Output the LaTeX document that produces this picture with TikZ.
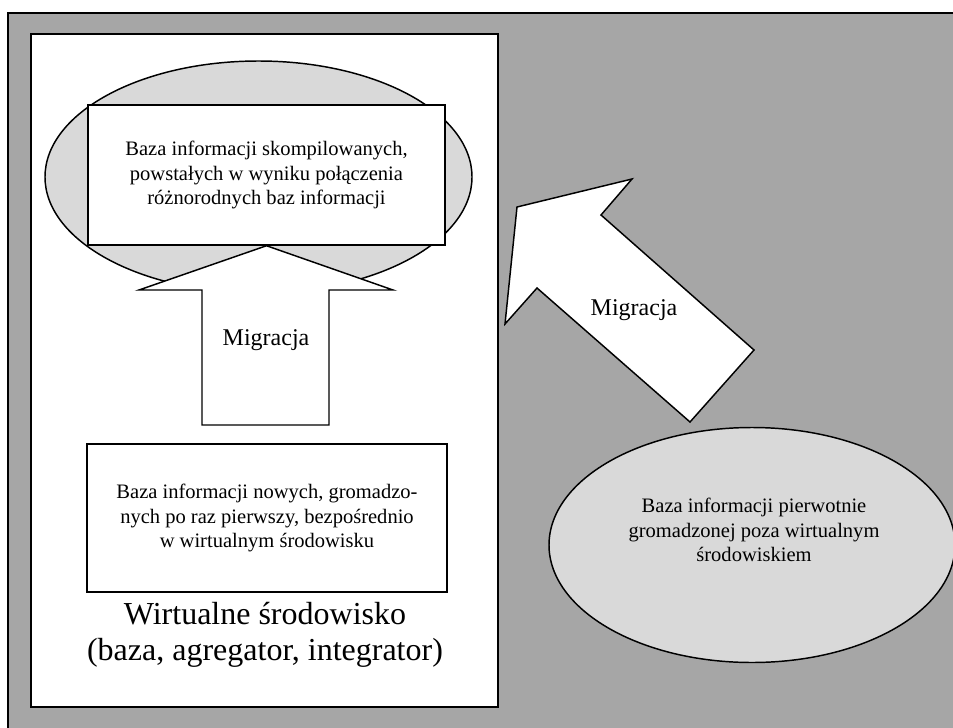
\documentclass[tikz,border=0pt]{standalone}
\usepackage{fontspec}
\setmainfont{Liberation Serif}
\usetikzlibrary{shapes.geometric}
\definecolor{ciemnoszary}{HTML}{A6A6A6}
\definecolor{jasnoszary}{HTML}{D9D9D9}
\tikzset{
  ramka/.style={draw=black,line width=1.1pt,fill=white,inner sep=0pt},
  baza/.style={ramka,align=center,font=\fontsize{15.4}{18.4}\selectfont},
  chmura/.style={ellipse,draw=black,line width=1.1pt,fill=jasnoszary,inner sep=0pt},
  strzalka/.style={draw=black,line width=1.1pt,fill=white,line join=miter},
  podpis/.style={font=\fontsize{18}{21}\selectfont}
}
\begin{document}
\begin{tikzpicture}[x=0.75pt,y=-0.75pt]
 \clip (0,0) rectangle (953,728);
 \fill[white] (0,0) rectangle (953,728);
 % tlo
 \draw[fill=ciemnoszary,line width=1.5pt] (8,13) rectangle (970,745);
 \node[ramka,minimum width=350.25pt,minimum height=504.75pt] (srodowisko) at (264.5,370.5) {};
 % baza skompilowana
 \node[chmura,minimum width=320.25pt,minimum height=174pt] (chmuraA) at (258.5,177) {};
 \node[baza,minimum width=267.75pt,minimum height=105pt] (skompilowana) at (266.5,175)
   {Baza informacji skompilowanych,\\ powstałych w wyniku połączenia\\ różnorodnych baz informacji};
 \draw[strzalka] (skompilowana.south) -- (393,290) -- (329,290) -- (329,425)
   -- (202,425) -- (202,290) -- (139,290) -- cycle;
 \node[podpis] (migracjaA) at (266,340) {Migracja};
 % baza nowa
 \node[baza,minimum width=270pt,minimum height=111pt] (nowa) at (267,518)
   {Baza informacji nowych, gromadzo-\\ nych po raz pierwszy, bezpośrednio\\ w wirtualnym środowisku};
 \node[align=center,font=\fontsize{24}{27}\selectfont] (opis) at (265,635)
   {Wirtualne środowisko\\ (baza, agregator, integrator)};
 % baza pierwotna
 \node[chmura,minimum width=304.5pt,minimum height=176.25pt] (chmuraB) at (752,545) {};
 \node[align=center,font=\fontsize{15.4}{18.4}\selectfont] (pierwotna) at (754,530)
   {Baza informacji pierwotnie\\ gromadzonej poza wirtualnym\\ środowiskiem};
 \draw[strzalka] (517,207) -- (632,179) -- (601,215) -- (754,350) -- (690,422)
   -- (537,288) -- (505,324) -- cycle;
 \node[podpis] (migracjaB) at (634,310) {Migracja};
\end{tikzpicture}
\end{document}
